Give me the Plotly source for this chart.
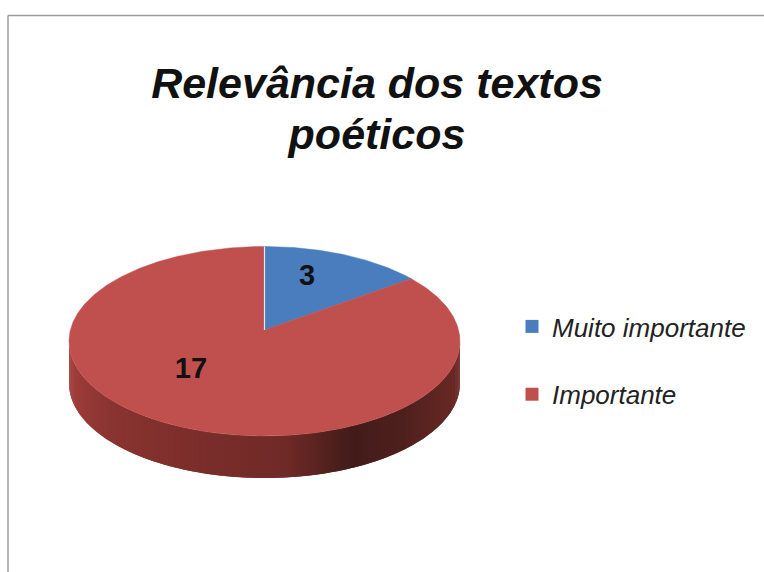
import numpy as np
import plotly.graph_objects as go

# Survey answers
categories = ["Muito importante", "Importante"]
values = [3, 17]
title_lines = ["Relevância dos textos", "poéticos"]
slice_colors = ["#4A7DBD", "#C0504D"]

# Tilted-disc projection, in page pixels
CX, CY = 264.5, 330.0   # disc centre on the page
SX, SY = 194.1, 93.4    # horizontal and vertical scale
PERSP = 0.1187          # foreshortening towards the back of the disc
DEPTH = 42.0            # height of the rim

# Rim shading from the left edge (0) to the right edge (1)
rim_stops = [(0.0, (160, 62, 58)), (0.10, (138, 52, 49)), (0.30, (124, 46, 43)),
             (0.55, (112, 42, 39)), (0.72, (66, 28, 25)), (0.85, (78, 32, 29)),
             (1.0, (108, 42, 38))]


def project(theta):
    """Map clockwise angles from 12 o'clock to page pixels on the top face."""
    u, v = np.sin(theta), np.cos(theta)
    w = 1 + PERSP * v
    return CX + SX * u / w, CY - SY * v / w


def rim_color(f):
    ks = [s[0] for s in rim_stops]
    rgb = [np.interp(f, ks, [s[1][i] for s in rim_stops]) for i in range(3)]
    return "rgb({:.0f},{:.0f},{:.0f})".format(*rgb)


fig = go.Figure()

# Rim: narrow quads across the visible lower half of the disc, painted from
# right to left with each one overlapping the previous to avoid seams
limit = np.arccos(-PERSP)
edges = np.linspace(limit, 2 * np.pi - limit, 241)
xs_edge, _ = project(edges)
x_min, x_max = xs_edge.min(), xs_edge.max()
for i in range(len(edges) - 1):
    a, b = edges[i], edges[min(i + 2, len(edges) - 1)]
    x0, y0 = project(a)
    x1, y1 = project(b)
    color = rim_color((0.5 * (x0 + x1) - x_min) / (x_max - x_min))
    fig.add_trace(go.Scatter(
        x=[x0, x1, x1, x0, x0], y=[y0, y1, y1 + DEPTH, y0 + DEPTH, y0],
        mode="lines", fill="toself", fillcolor=color,
        line=dict(width=0), hoverinfo="skip", showlegend=False))

# Top face: one wedge per answer, sized by its share of the total
total = sum(values)
start = 0.0
for value, color in zip(values, slice_colors):
    stop = start + 2 * np.pi * value / total
    theta = np.linspace(start, stop, max(int(value * 30), 30))
    xs, ys = project(theta)
    fig.add_trace(go.Scatter(
        x=[CX, *xs, CX], y=[CY, *ys, CY], mode="lines", fill="toself",
        fillcolor=color, line=dict(color=color, width=0.5),
        hoverinfo="skip", showlegend=False))
    start = stop

# Pale seam on the 12 o'clock edge of the first wedge
seam_x, seam_y = project(np.array([0.0]))
fig.add_trace(go.Scatter(
    x=[CX, seam_x[0]], y=[CY, seam_y[0]], mode="lines",
    line=dict(color="#E4E8EE", width=1.2), hoverinfo="skip", showlegend=False))

# Value labels on the wedges
fig.add_trace(go.Scatter(
    x=[307, 191], y=[278, 371], mode="text",
    text=[str(v) for v in values],
    textfont=dict(family="Liberation Sans", size=29, color="#111111", weight="bold"),
    hoverinfo="skip", showlegend=False))

# Legend entries
for name, color in zip(categories, slice_colors):
    fig.add_trace(go.Scatter(
        x=[None], y=[None], mode="markers", name=name, legendgroup=name,
        marker=dict(symbol="square", size=13, color=color)))

# The title's base size sets the line spacing; the span sets the glyph size
title_text = "<br>".join(f'<span style="font-size:43px">{t}</span>' for t in title_lines)

fig.update_layout(
    width=764, height=572, autosize=False,
    margin=dict(l=0, r=0, t=0, b=0),
    paper_bgcolor="white", plot_bgcolor="white",
    xaxis=dict(range=[0, 764], visible=False, fixedrange=True),
    yaxis=dict(range=[572, 0], visible=False, fixedrange=True),
    title=dict(
        text=title_text, x=377 / 764, xanchor="center",
        y=1 - 98 / 572, yanchor="bottom",
        font=dict(family="Liberation Sans", size=39, color="#111111",
                  weight="bold", style="italic")),
    legend=dict(
        x=512 / 764, xanchor="left", y=1 - 303 / 572, yanchor="top",
        bgcolor="rgba(0,0,0,0)", tracegroupgap=31,
        font=dict(family="Liberation Sans", size=26, color="#222222",
                  style="italic")),
    shapes=[
        dict(type="line", xref="x", yref="y", x0=8, x1=8, y0=15.5, y1=572,
             line=dict(color="#9C9C9C", width=1.5)),
        dict(type="line", xref="x", yref="y", x0=8, x1=764, y0=15.5, y1=15.5,
             line=dict(color="#9C9C9C", width=1.5)),
    ],
)

fig.write_html("out.html")
